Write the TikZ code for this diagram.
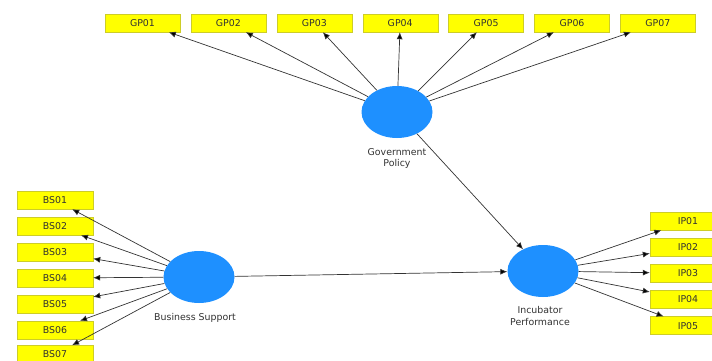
\documentclass[tikz,border=0pt]{standalone}
\usepackage{fontspec}
\setmainfont{DejaVu Sans}
\usepackage{xcolor}
\usetikzlibrary{arrows.meta,positioning,shapes.geometric}

\definecolor{lvblue}{RGB}{30,144,255}
\definecolor{indyellow}{RGB}{255,255,0}
\definecolor{indedge}{RGB}{205,205,40}
\definecolor{txtgray}{RGB}{50,50,50}

\begin{document}
\begin{tikzpicture}[
  x=1pt, y=-1pt, >={Latex[length=7pt,width=6pt]},
  font=\fontsize{9.4}{11.5}\selectfont, text=txtgray,
  ind/.style={draw=indedge, fill=indyellow, minimum width=75pt, minimum height=18pt, inner sep=0pt},
  lv/.style={ellipse, fill=lvblue, minimum width=71pt, minimum height=52pt, inner sep=0pt},
  lvname/.style={align=center, inner sep=0pt},
  path/.style={-{Latex[length=7pt,width=6pt,fill=black]}, draw=black!80, line width=0.7pt}]
  \useasboundingbox (0,0) rectangle (712,360);

  % latent variables
  \node[lv] (gp) at (397,112) {};
  \node[lv] (bs) at (199,277) {};
  \node[lv] (ip) at (543,271) {};
  \node[lvname, below=10pt of gp] (gpname) {Government\\Policy};
  \node[lvname, below=10pt of bs, xshift=-4pt] (bsname) {Business Support};
  \node[lvname, below=9pt of ip, xshift=-3pt] (ipname) {Incubator\\Performance};

  % government policy indicators
  \node[ind] (gp01) at (142.5,23) {GP01};
  \node[ind, right=10.5pt of gp01] (gp02) {GP02};
  \node[ind, right=10.5pt of gp02] (gp03) {GP03};
  \node[ind, right=10.5pt of gp03] (gp04) {GP04};
  \node[ind, right=10.5pt of gp04] (gp05) {GP05};
  \node[ind, right=10.5pt of gp05] (gp06) {GP06};
  \node[ind, right=10.5pt of gp06] (gp07) {GP07};

  % business support indicators
  \node[ind, minimum width=76pt] (bs01) at (55,200) {BS01};
  \node[ind, minimum width=76pt, below=7.6pt of bs01] (bs02) {BS02};
  \node[ind, minimum width=76pt, below=7.6pt of bs02] (bs03) {BS03};
  \node[ind, minimum width=76pt, below=7.6pt of bs03] (bs04) {BS04};
  \node[ind, minimum width=76pt, below=7.6pt of bs04] (bs05) {BS05};
  \node[ind, minimum width=76pt, below=7.6pt of bs05] (bs06) {BS06};
  \node[ind, minimum width=76pt, below=6pt of bs06] (bs07) {BS07};

  % incubator performance indicators
  \node[ind, minimum width=76pt] (ip01) at (688,221) {IP01};
  \node[ind, minimum width=76pt, below=7.75pt of ip01] (ip02) {IP02};
  \node[ind, minimum width=76pt, below=7.75pt of ip02] (ip03) {IP03};
  \node[ind, minimum width=76pt, below=7.75pt of ip03] (ip04) {IP04};
  \node[ind, minimum width=76pt, below=7.75pt of ip04] (ip05) {IP05};

  % outer model
  \foreach \i in {1,...,7} \draw[path] (gp) -- (gp0\i);
  \foreach \i in {1,...,7} \draw[path] (bs) -- (bs0\i);
  \foreach \i in {1,...,5} \draw[path] (ip) -- (ip0\i);

  % inner model
  \draw[path] (gp) -- (ip);
  \draw[path] (bs) -- (ip);
\end{tikzpicture}
\end{document}
